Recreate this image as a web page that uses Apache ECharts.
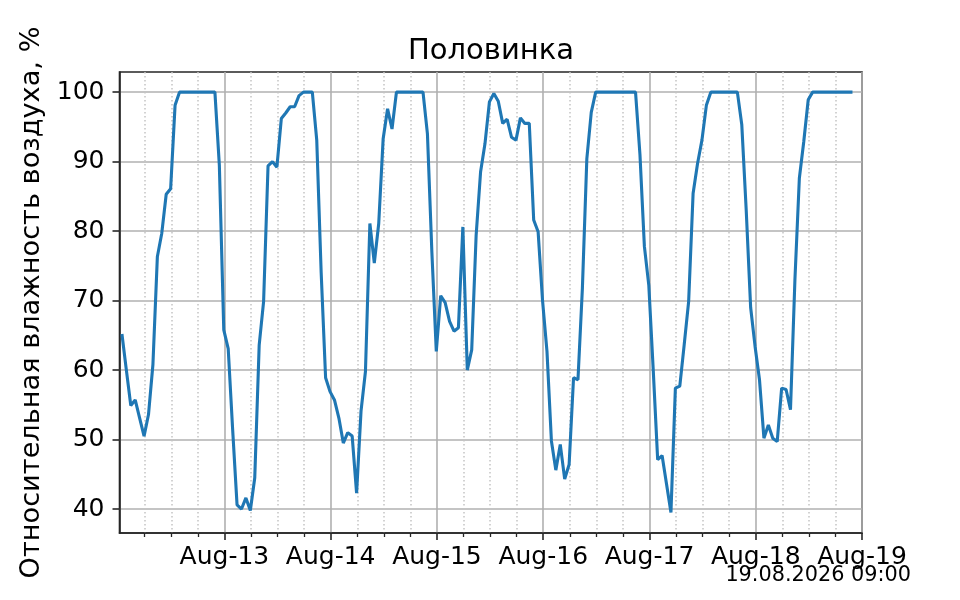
<!DOCTYPE html>
<html>

<head>
  <meta charset="utf-8">
  <title>Половинка</title>
  <script src="https://cdn.jsdelivr.net/npm/echarts@6/dist/echarts.min.js"></script>
  <style>
    body { margin: 0; background: #fff; }
    #chart { width: 960px; height: 600px; }
  </style>
</head>

<body>
  <div id="chart"></div>
  <script type="text/javascript">
    // hours since Aug-12 00:00, hourly readings
    var startHour = 0.85;
    var humidity = [
      65.2, 60.0, 54.9, 55.7, 53.1, 50.5, 53.6, 60.8, 76.3, 79.7, 85.3, 86.1, 98.1,
      100, 100, 100, 100, 100, 100, 100, 100, 100,
      89.5, 65.8, 63.1, 51.5, 40.6, 40.0, 41.6, 39.8, 44.5, 63.6, 69.9, 89.4, 90.0, 89.2,
      96.2, 97.0, 97.9, 97.9, 99.5, 100, 100, 100, 93.1, 74.0, 58.9, 56.9, 55.7, 53.1,
      49.5, 51.0, 50.5, 42.3, 54.1, 59.8, 81.1, 75.4, 81.1, 93.3, 97.6, 94.7,
      100, 100, 100, 100, 100, 100, 100,
      94.0, 77.0, 62.7, 70.7, 69.7, 67.0, 65.6, 66.1, 80.6, 60.0, 62.9, 79.4, 88.5, 92.6,
      98.6, 99.8, 98.7, 95.5, 96.1, 93.5, 93.1, 96.3, 95.5, 95.5, 81.6, 79.9, 70.0, 62.7,
      49.8, 45.6, 49.3, 44.3, 46.4, 58.9, 58.6, 71.8, 90.4, 97.1,
      100, 100, 100, 100, 100, 100, 100, 100, 100, 100,
      91.0, 77.8, 72.2, 60.0, 47.1, 47.7, 43.6, 39.5, 57.4, 57.7, 63.7, 69.9, 85.4, 89.7,
      93.1, 98.1,
      100, 100, 100, 100, 100, 100, 100,
      95.3, 83.0, 69.0, 63.4, 58.6, 50.2, 52.1, 50.2, 49.7, 57.4, 57.2, 54.3, 73.0, 87.6,
      92.9, 98.9,
      100, 100, 100, 100, 100, 100, 100, 100, 100, 100
    ];
    var dayTicks = [24, 48, 72, 96, 120, 144, 168];
    var dayLabels = ['Aug-13', 'Aug-14', 'Aug-15', 'Aug-16', 'Aug-17', 'Aug-18', 'Aug-19'];
    var quarterTicks = [6, 12, 18, 30, 36, 42, 54, 60, 66, 78, 84, 90, 102, 108, 114,
      126, 132, 138, 150, 156, 162];
    var yTicks = [40, 50, 60, 70, 80, 90, 100];

    var points = [];
    for (var i = 0; i < humidity.length; i++) {
      points.push([startHour + i, humidity[i]]);
    }

    var font = 'DejaVu Sans';
    var axisColor = '#262626';

    var option = {
      animation: false,
      backgroundColor: '#fff',
      title: [{
        text: 'Половинка',
        left: 491,
        top: 37,
        padding: 0,
        textAlign: 'center',
        textStyle: { fontFamily: font, fontSize: 29, fontWeight: 'normal', color: '#000' }
      }, {
        text: '19.08.2026 09:00',
        right: 49,
        top: 565,
        padding: 0,
        textStyle: { fontFamily: font, fontSize: 20.8, fontWeight: 'normal', color: '#000' }
      }],
      grid: {
        left: 119.5,
        right: 98,
        top: 72,
        bottom: 67,
        show: true,
        borderColor: axisColor,
        borderWidth: 1.6,
        containLabel: false
      },
      xAxis: [{
        type: 'value',
        min: 0.3,
        max: 168,
        axisLine: { show: true, onZero: false, lineStyle: { color: axisColor, width: 1.6 } },
        axisTick: { show: true, length: 7, customValues: dayTicks, lineStyle: { color: axisColor, width: 1.6 } },
        axisLabel: {
          customValues: dayTicks,
          margin: 12,
          fontFamily: font, fontSize: 25, color: '#000',
          formatter: function (v) {
            var idx = dayTicks.indexOf(Math.round(v));
            return idx >= 0 ? dayLabels[idx] : '';
          }
        },
        splitLine: { show: true, lineStyle: { color: '#b0b0b0', width: 1.6 } }
      }, {
        type: 'value',
        position: 'bottom',
        min: 0.3,
        max: 168,
        axisLine: { show: false },
        axisTick: { show: true, length: 4, customValues: quarterTicks, lineStyle: { color: axisColor, width: 1.3 } },
        axisLabel: { show: false },
        splitLine: { show: true, lineStyle: { color: '#c4c4c4', width: 1.5, type: [1.5, 2.5] } }
      }],
      yAxis: {
        type: 'value',
        min: 36.55,
        max: 102.9,
        name: 'Относительная влажность воздуха, %',
        nameLocation: 'middle',
        nameGap: 73,
        nameTextStyle: { fontFamily: font, fontSize: 27.2, color: '#000' },
        axisLine: { show: true, onZero: false, lineStyle: { color: axisColor, width: 1.6 } },
        axisTick: { show: true, length: 7, customValues: yTicks, lineStyle: { color: axisColor, width: 1.6 } },
        axisLabel: { customValues: yTicks, margin: 15, fontFamily: font, fontSize: 25, color: '#000' },
        splitLine: { show: true, lineStyle: { color: '#b0b0b0', width: 1.6 } }
      },
      series: [{
        type: 'line',
        xAxisIndex: 0,
        data: points,
        showSymbol: false,
        lineStyle: { color: '#1f77b4', width: 3.1 },
        itemStyle: { color: '#1f77b4' }
      }]
    };

    var myChart = echarts.init(document.getElementById('chart'));
    myChart.setOption(option);
  </script>
</body>

</html>
